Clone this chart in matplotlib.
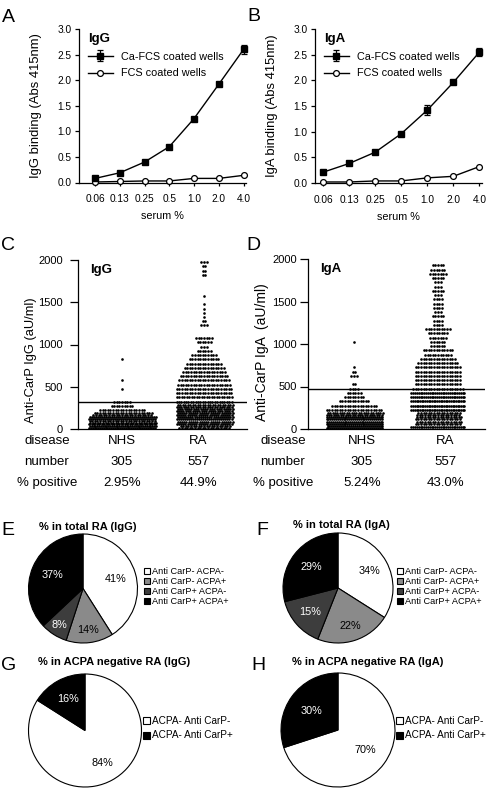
import numpy as np
import matplotlib

matplotlib.use("Agg")
import matplotlib.pyplot as plt

plt.rcParams["font.family"] = ["Liberation Sans", "DejaVu Sans"]
plt.rcParams["axes.linewidth"] = 0.9

# ---- data -------------------------------------------------------------
serum_labels = ["0.06", "0.13", "0.25", "0.5", "1.0", "2.0", "4.0"]

igg_ca_fcs = [0.08, 0.19, 0.40, 0.70, 1.25, 1.92, 2.60]
igg_ca_err = [0.0, 0.0, 0.0, 0.0, 0.0, 0.0, 0.08]
igg_fcs = [0.01, 0.02, 0.03, 0.03, 0.08, 0.08, 0.14]

iga_ca_fcs = [0.21, 0.38, 0.60, 0.96, 1.42, 1.96, 2.55]
iga_ca_err = [0.0, 0.0, 0.0, 0.0, 0.09, 0.0, 0.08]
iga_fcs = [0.02, 0.02, 0.04, 0.04, 0.10, 0.13, 0.32]

# counts of sera per 50 aU/ml bin (0-50, 50-100, ... 1950-2000)
BIN_W = 50
igg_nhs = [74, 80, 68, 46, 18, 9, 7, 0, 0, 1, 0, 1, 0, 0, 0, 0, 1]
igg_ra = [40, 52, 55, 52, 50, 47, 24, 23, 22, 22, 21, 20, 19, 17, 16, 14,
          12, 10, 6, 3, 6, 7, 0, 0, 3, 2, 1, 1, 1, 1, 0, 1, 0, 0, 0, 0,
          2, 2, 2, 3]
iga_nhs = [58, 60, 60, 48, 22, 18, 12, 8, 6, 4, 2, 0, 3, 2, 1, 0, 0, 0, 0, 0, 1]
iga_ra = [30, 36, 36, 34, 32, 32, 32, 30, 30, 20, 18, 18, 18, 18, 18, 16,
          14, 11, 12, 6, 6, 7, 8, 10, 4, 4, 5, 3, 4, 4, 4, 3, 5, 3, 3, 5,
          7, 6, 5]
igg_cutoff = 320
iga_cutoff = 470

groups = ["NHS", "RA"]
numbers = ["305", "557"]
igg_pos = ["2.95%", "44.9%"]
iga_pos = ["5.24%", "43.0%"]

total_labels = ["Anti CarP- ACPA-", "Anti CarP- ACPA+",
                "Anti CarP+ ACPA-", "Anti CarP+ ACPA+"]
total_igg = [41, 14, 8, 37]
total_iga = [34, 22, 15, 29]
neg_labels = ["ACPA- Anti CarP-", "ACPA- Anti CarP+"]
neg_igg = [84, 16]
neg_iga = [70, 30]

# ---- layout helpers ---------------------------------------------------
W, H = 490, 788
fig = plt.figure(figsize=(W / 100, H / 100), dpi=100)


def rect(x0, y0, x1, y1):
    return [x0 / W, 1 - y1 / H, (x1 - x0) / W, (y1 - y0) / H]


def fx(x):
    return x / W


def fy(y):
    return 1 - y / H


def letter(x, y, s):
    fig.text(fx(x), fy(y), s, fontsize=14, ha="left", va="baseline")


# ---- A / B: binding curves --------------------------------------------
def binding(r, ca, ca_err, fcs, title, ylabel, xleft):
    ax = fig.add_axes(r)
    x = np.arange(len(serum_labels))
    l1 = ax.errorbar(x, ca, yerr=ca_err, color="black", marker="s", ms=3.8,
                     lw=1.0, capsize=2, elinewidth=0.9, capthick=0.9,
                     clip_on=False, zorder=3)
    l2, = ax.plot(x, fcs, color="black", marker="o", ms=4.2, mfc="white",
                  mew=0.9, lw=1.0, clip_on=False, zorder=3)
    ax.set_xlim(xleft, 6.1)
    ax.set_ylim(0, 3)
    ax.set_yticks(np.arange(0, 3.01, 0.5))
    ax.set_yticklabels([f"{v:.1f}" for v in np.arange(0, 3.01, 0.5)])
    ax.set_xticks(x)
    ax.set_xticklabels(serum_labels)
    ax.tick_params(axis="y", length=3, width=0.9, pad=2.5, labelsize=7.3)
    ax.tick_params(axis="x", length=2.5, width=0.9, pad=6, labelsize=7.3)
    for s in ["top", "right"]:
        ax.spines[s].set_visible(False)
    ax.set_xlabel("serum %", fontsize=7.8, labelpad=5)
    ax.set_ylabel(ylabel, fontsize=9.4, va="center")
    ax.yaxis.set_label_coords(-0.26, 0.5)
    ax.legend([l1, l2], ["Ca-FCS coated wells", "FCS coated wells"],
              title=title, loc="upper left", bbox_to_anchor=(0.02, 1.01),
              frameon=False, fontsize=7.8, handlelength=2.3,
              labelspacing=0.62, borderpad=0, alignment="left",
              title_fontproperties={"weight": "bold", "size": 9.5})
    return ax


binding(rect(79, 29, 246, 182.5), igg_ca_fcs, igg_ca_err, igg_fcs, "IgG",
        "IgG binding (Abs 415nm)", -0.65)
binding(rect(315, 29, 482, 183), iga_ca_fcs, iga_ca_err, iga_fcs, "IgA",
        "IgA binding (Abs 415nm)", -0.31)
letter(2, 22, "A")
letter(247, 21, "B")


# ---- C / D: scatter dot plots -----------------------------------------
def swarm(ax, center, counts, px_unit, wmax, dx_px=2.6, dx_min=1.7):
    per_row = int(wmax / dx_min) + 1
    xs, ys = [], []
    for i, n in enumerate(counts):
        if n == 0:
            continue
        s = int(np.ceil(n / per_row))
        base, extra = divmod(n, s)
        for j in range(s):
            k = base + (1 if j < extra else 0)
            step = dx_px if k < 2 else min(dx_px, wmax / (k - 1))
            y = (i + (j + 0.5) / s) * BIN_W
            off = (np.arange(k) - (k - 1) / 2) * step
            if j % 2:
                off = off + step / 2
            xs.extend(center + off / px_unit)
            ys.extend([y] * k)
    ax.scatter(xs, ys, s=3.6, c="black", lw=0, clip_on=False, zorder=3)


def dotplot(r, nhs, ra, cutoff, title, ylabel, xl, px_unit, widths,
            ylab_fs, ylab_x, ylab_y, tick_pad):
    ax = fig.add_axes(r)
    swarm(ax, 0, nhs, px_unit, widths[0])
    swarm(ax, 1, ra, px_unit, widths[1])
    ax.axhline(cutoff, color="black", lw=1.0, zorder=4)
    ax.set_xlim(*xl)
    ax.set_ylim(0, 2000)
    ax.set_yticks([0, 500, 1000, 1500, 2000])
    ax.set_xticks([])
    ax.tick_params(axis="y", length=6, width=0.9, pad=tick_pad, labelsize=8)
    for s in ["top", "right"]:
        ax.spines[s].set_visible(False)
    ax.set_ylabel(ylabel, fontsize=ylab_fs, va="center")
    ax.yaxis.set_label_coords(ylab_x, ylab_y)
    ax.text(0.07, 0.94, title, transform=ax.transAxes, fontsize=9.5,
            fontweight="bold", va="center", ha="left")
    return ax


dotplot(rect(78, 260, 247, 429), igg_nhs, igg_ra, igg_cutoff, "IgG",
        "Anti-CarP IgG (aU/ml)", (-0.537, 1.524), 82, (66, 55),
        9.3, -0.28, 0.41, 5)
dotplot(rect(308, 259, 485, 429), iga_nhs, iga_ra, iga_cutoff, "IgA",
        "Anti-CarP IgA  (aU/ml)", (-0.548, 1.56), 84, (55, 53),
        10, -0.26, 0.45, 2)
letter(1, 250, "C")
letter(246, 250, "D")

# table under the dot plots
row_y = [441, 462, 483]
for cols, pos in [((47, 122, 198), igg_pos), ((283, 362, 445), iga_pos)]:
    rows_txt = [["disease"] + groups, ["number"] + numbers, ["% positive"] + pos]
    for yy, row in zip(row_y, rows_txt):
        for xx, t in zip(cols, row):
            fig.text(fx(xx), fy(yy), t, fontsize=9.5, ha="center", va="center")

# ---- E-H: pies ---------------------------------------------------------
grey_cols = ["white", "#8a8a8a", "#3d3d3d", "black"]
bw_cols = ["white", "black"]


def pie(cx, cy, r, vals, cols, txt_cols, dist, title, tx, ty, labels,
        lx, ly, lfs, lsp):
    ax = fig.add_axes(rect(cx - r, cy - r, cx + r, cy + r))
    wedges, _, autot = ax.pie(vals, colors=cols, startangle=90,
                              counterclock=False, autopct="%d%%",
                              wedgeprops={"edgecolor": "black", "linewidth": 0.8},
                              textprops={"fontsize": 7.8})
    for w, t, c, d in zip(wedges, autot, txt_cols, dist):
        w.set_clip_on(False)
        a = np.deg2rad((w.theta1 + w.theta2) / 2)
        t.set_position((d * np.cos(a), d * np.sin(a)))
        t.set_color(c)
    ax.set_xlim(-1, 1)
    ax.set_ylim(-1, 1)
    fig.text(fx(tx), fy(ty), title, fontsize=8, fontweight="bold",
             ha="center", va="center")
    fig.legend(wedges, labels, loc="upper left",
               bbox_to_anchor=(fx(lx), fy(ly)), bbox_transform=fig.transFigure,
               frameon=False, fontsize=lfs, borderpad=0, borderaxespad=0,
               handlelength=0.7, handleheight=0.7, handletextpad=0.2,
               labelspacing=lsp)


pie(83, 588.5, 54.5, total_igg, grey_cols, ["black", "black", "white", "white"],
    [0.63, 0.77, 0.80, 0.62], "% in total RA (IgG)", 88, 527, total_labels,
    144, 567, 6.6, 0.12)
pie(338, 588, 55, total_iga, grey_cols, ["black", "black", "white", "white"],
    [0.66, 0.72, 0.67, 0.61], "% in total RA (IgA)", 341, 525, total_labels,
    397, 567, 6.6, 0.12)
pie(85, 730.5, 56.5, neg_igg, bw_cols, ["black", "white"], [0.65, 0.64],
    "% in ACPA negative RA (IgG)", 114, 662, neg_labels, 143, 716, 7.2, 0.45)
pie(338, 730, 57, neg_iga, bw_cols, ["black", "white"], [0.59, 0.58],
    "% in ACPA negative RA (IgA)", 368, 662, neg_labels, 396, 716, 7.2, 0.45)
letter(1, 535, "E")
letter(256, 535, "F")
letter(1, 670, "G")
letter(251, 670, "H")

fig.savefig("out.png", dpi=100)
